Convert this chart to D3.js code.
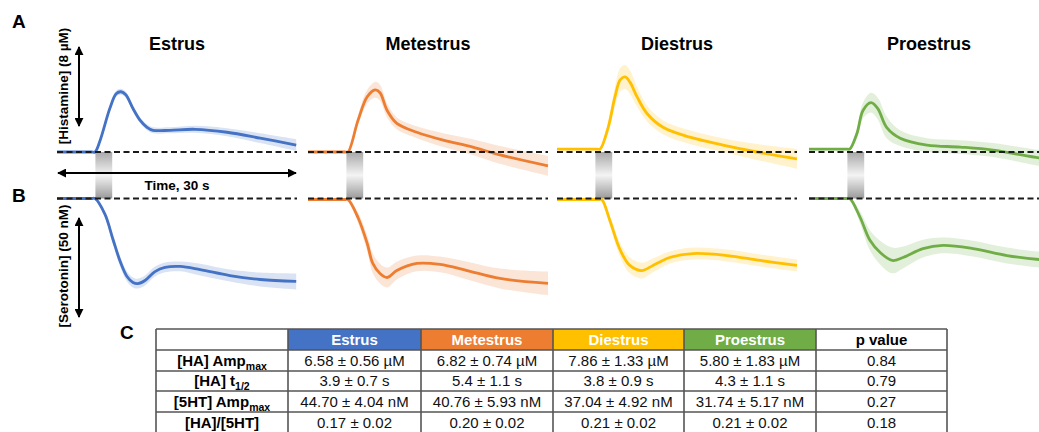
<!DOCTYPE html>
<html><head><meta charset="utf-8">
<script src="https://cdn.jsdelivr.net/npm/d3@7"></script>
<style>body{margin:0;background:#fff}svg{display:block}text{font-family:Arial,"Liberation Sans",sans-serif}</style>
</head><body><svg id="c" width="1039" height="432"></svg>
<script>
// ---------- data ----------
const phases = ["Estrus","Metestrus","Diestrus","Proestrus"];
const colors = ["#4472C4","#ED7D31","#FFC000","#70AD47"];
// [time s, mean µM, sem µM]
const estrusHA = [[0,0,0.1],[4.3,0,0.1],[4.75,0,0.1],[5.4,1.2,0.2],[6.6,4.4,0.3],[7.4,5.9,0.3],[8.0,6.1,0.3],[8.6,5.8,0.3],[9.5,4.4,0.3],[10.4,3.2,0.3],[11.25,2.5,0.3],[12,2.2,0.3],[14.1,2.2,0.3],[17.25,2.3,0.35],[21.25,2.0,0.4],[25.4,1.4,0.5],[29.9,0.7,0.6]];
const metestrusHA = [[0,0,0.1],[4.6,0,0.1],[5,0,0.1],[6.25,3.2,0.5],[7.4,5.6,0.7],[8.4,6.3,0.8],[9,6.0,0.8],[9.9,4.2,0.7],[11.1,2.9,0.6],[13.6,2.0,0.6],[16.9,1.2,0.7],[20.6,0.5,0.8],[24,-0.3,0.9],[30,-1.4,1.0]];
const diestrusHA = [[0,0.3,0.1],[5.0,0.3,0.1],[5.4,0.3,0.1],[6.4,2.5,0.6],[7.25,5.6,1.0],[7.9,7.3,1.2],[8.5,7.6,1.2],[9.1,7.1,1.2],[10,5.6,1.0],[11.25,3.9,0.8],[13.25,2.5,0.7],[16.6,1.5,0.7],[20.75,0.7,0.7],[25,0,0.8],[30,-0.7,1.0]];
const proestrusHA = [[0,0.3,0.1],[4.7,0.3,0.1],[5.1,0.3,0.1],[6,1.9,0.5],[6.75,4.2,0.8],[7.75,5.0,1.0],[8.6,4.4,1.1],[9.7,2.5,1.1],[11.4,1.4,0.8],[14.75,0.7,0.7],[18.9,0.5,0.7],[23,0.2,0.7],[28.75,-0.6,0.8],[30,-0.7,0.8]];
// [time s, mean nM (downward), sem nM]
const estrus5HT = [[0,0,0.5],[4.3,0,0.5],[4.75,0,0.5],[6,8,1.5],[7,20.7,2.5],[7.9,31.8,2.5],[8.75,39.4,2.5],[9.5,42.4,2.5],[10.1,43,2.5],[11,41.4,2.5],[12.25,36.9,2.5],[13.5,34.8,2.5],[15.4,34.3,2.5],[17.9,35.9,3],[21.6,38.9,3],[25.4,40.9,3.5],[29.9,41.9,4]];
const metestrus5HT = [[0,0.5,0.5],[4.6,0.5,0.5],[5,0.5,0.5],[6.25,9.6,2.5],[7.4,22.7,4],[8.1,32.8,5],[9,37.9,5],[9.9,39.9,5],[11.1,36.4,4.5],[13.6,32.8,4],[16.5,33.3,4],[19.9,36.4,4.5],[24,40.4,5],[30,42.9,6]];
const diestrus5HT = [[0,0.5,0.5],[5.2,0.5,0.5],[5.6,0.5,0.5],[6.6,11,2.5],[7.9,26,3.5],[9.1,33.8,4],[10.6,36.4,4],[12,33.8,3.5],[14.1,29.8,3],[17,27.8,3],[21.25,28.8,3],[25.4,31.3,3],[30,33.8,3]];
const proestrus5HT = [[0,0,0.5],[4.7,0,0.5],[5.1,0,0.5],[6.4,9.6,3],[7.6,21,5],[8.9,27.3,6],[10.4,31.3,6.5],[11.75,29.8,5.5],[14.25,25.3,4.5],[16.75,23.7,4],[20.5,25.3,4],[24.75,28.8,4],[28.75,30.8,4],[30,31,4]];
const haSeries = [estrusHA, metestrusHA, diestrusHA, proestrusHA];
const htSeries = [estrus5HT, metestrus5HT, diestrus5HT, proestrus5HT];
const stimWindow = [4.8, 6.9];   // s
const timeSpan = 30;             // s
const haBar = 8;                 // µM
const htBar = 50;                // nM

const tableHeader = ["", "Estrus","Metestrus","Diestrus","Proestrus","p value"];
const rowLabels = [["[HA] Amp","max"],["[HA] t","1/2"],["[5HT] Amp","max"],["[HA]/[5HT]",""]];
const tableValues = [
  ["6.58 ± 0.56 µM","6.82 ± 0.74 µM","7.86 ± 1.33 µM","5.80 ± 1.83 µM","0.84"],
  ["3.9 ± 0.7 s","5.4 ± 1.1 s","3.8 ± 0.9 s","4.3 ± 1.1 s","0.79"],
  ["44.70 ± 4.04 nM","40.76 ± 5.93 nM","37.04 ± 4.92 nM","31.74 ± 5.17 nM","0.27"],
  ["0.17 ± 0.02","0.20 ± 0.02","0.21 ± 0.02","0.21 ± 0.02","0.18"]
];

// ---------- layout ----------
const svg = d3.select("#c");
const panelX = [57, 308, 557, 809];
const panelW = 240;
const yA0 = 152, yB0 = 198.5;
const yHA = d3.scaleLinear().domain([0, 8]).range([yA0, yA0 - 79]);
const y5HT = d3.scaleLinear().domain([0, 50]).range([yB0, yB0 + 99]);
const curve = d3.curveCatmullRom.alpha(0.5);

// defs
const defs = svg.append("defs");
const grad = defs.append("linearGradient").attr("id","stim").attr("x1",0).attr("y1",0).attr("x2",0).attr("y2",1);
[[0,"#a8a8a8"],[0.5,"#f4f4f4"],[1,"#9a9a9a"]].forEach(([o,c])=>grad.append("stop").attr("offset",o).attr("stop-color",c));
const mk = defs.append("marker").attr("id","ah").attr("viewBox","0 0 10 10").attr("refX",9).attr("refY",5)
  .attr("markerWidth",4.5).attr("markerHeight",4.5).attr("orient","auto-start-reverse");
mk.append("path").attr("d","M0,0L10,5L0,10z").attr("fill","#000");

phases.forEach((ph,i)=>{
  const x = d3.scaleLinear().domain([0,timeSpan]).range([panelX[i], panelX[i]+panelW]);
  const g = svg.append("g");
  // stimulation bar
  g.append("rect").attr("x",x(stimWindow[0])).attr("width",x(stimWindow[1])-x(stimWindow[0]))
    .attr("y",yA0).attr("height",yB0-yA0).attr("fill","url(#stim)");
  const col = colors[i];
  // HA
  const areaA = d3.area().x(d=>x(d[0])).y0(d=>yHA(d[1]-d[2])).y1(d=>yHA(d[1]+d[2])).curve(curve);
  const lineA = d3.line().x(d=>x(d[0])).y(d=>yHA(d[1])).curve(curve);
  g.append("path").attr("d",areaA(haSeries[i])).attr("fill",col).attr("opacity",0.2);
  g.append("path").attr("d",lineA(haSeries[i])).attr("fill","none").attr("stroke",col).attr("stroke-width",2.8);
  // 5HT
  const areaB = d3.area().x(d=>x(d[0])).y0(d=>y5HT(d[1]-d[2])).y1(d=>y5HT(d[1]+d[2])).curve(curve);
  const lineB = d3.line().x(d=>x(d[0])).y(d=>y5HT(d[1])).curve(curve);
  g.append("path").attr("d",areaB(htSeries[i])).attr("fill",col).attr("opacity",0.2);
  g.append("path").attr("d",lineB(htSeries[i])).attr("fill","none").attr("stroke",col).attr("stroke-width",2.8);
  // baselines
  [yA0,yB0].forEach(yy=>g.append("line").attr("x1",x(0)).attr("x2",x(timeSpan)).attr("y1",yy).attr("y2",yy)
    .attr("stroke","#1a1a1a").attr("stroke-width",1.8).attr("stroke-dasharray","6,3.5"));
  // title
  g.append("text").attr("x",x(timeSpan/2)).attr("y",50).attr("text-anchor","middle")
    .attr("font-size",18).attr("font-weight","bold").text(ph);
  if(i===0){
    svg.append("line").attr("x1",x(0)+1).attr("x2",x(timeSpan)-1).attr("y1",173).attr("y2",173)
      .attr("stroke","#000").attr("stroke-width",2).attr("marker-start","url(#ah)").attr("marker-end","url(#ah)");
    svg.append("text").attr("x",x(timeSpan/2)).attr("y",190).attr("text-anchor","middle")
      .attr("font-size",13.5).attr("font-weight","bold").text("Time, 30 s");
  }
});

// scale bars
const barX = 79;
svg.append("line").attr("x1",barX).attr("x2",barX).attr("y1",47).attr("y2",47+(yHA(0)-yHA(haBar)))
  .attr("stroke","#000").attr("stroke-width",2).attr("marker-start","url(#ah)").attr("marker-end","url(#ah)");
svg.append("line").attr("x1",barX).attr("x2",barX).attr("y1",218).attr("y2",218+(y5HT(htBar)-y5HT(0)))
  .attr("stroke","#000").attr("stroke-width",2).attr("marker-start","url(#ah)").attr("marker-end","url(#ah)");
svg.append("text").attr("transform","translate(67.5,86) rotate(-90)").attr("text-anchor","middle")
  .attr("font-size",13.5).attr("font-weight","bold").text("[Histamine] (8 µM)");
svg.append("text").attr("transform","translate(67.5,266) rotate(-90)").attr("text-anchor","middle")
  .attr("font-size",13.5).attr("font-weight","bold").text("[Serotonin] (50 nM)");

// panel letters
[["A",12,28],["B",12,202],["C",120,339]].forEach(([t,x,y])=>
  svg.append("text").attr("x",x).attr("y",y).attr("font-size",19).attr("font-weight","bold").text(t));

// ---------- table ----------
const colX = [156, 288, 421, 553, 684, 816, 947];
const rowY = [329, 350, 371, 391, 412, 433];
const tg = svg.append("g");
tableHeader.forEach((h,j)=>{
  const fill = (j>=1 && j<=4) ? colors[j-1] : "#fff";
  tg.append("rect").attr("x",colX[j]).attr("y",rowY[0]).attr("width",colX[j+1]-colX[j]).attr("height",rowY[1]-rowY[0]).attr("fill",fill);
  if(h) tg.append("text").attr("x",(colX[j]+colX[j+1])/2).attr("y",(rowY[0]+rowY[1])/2+5.3).attr("text-anchor","middle")
    .attr("font-size",15).attr("font-weight","bold").attr("fill", j===5 ? "#000" : "#fff").text(h);
});
rowLabels.forEach((lab,r)=>{
  const cy = (rowY[r+1]+rowY[r+2])/2+5.3;
  const t = tg.append("text").attr("x",(colX[0]+colX[1])/2).attr("y",cy).attr("text-anchor","middle")
    .attr("font-size",15).attr("font-weight","bold");
  t.append("tspan").text(lab[0]);
  if(lab[1]) t.append("tspan").attr("font-size",10.5).attr("dy",4).text(lab[1]);
  tableValues[r].forEach((v,j)=>{
    tg.append("text").attr("x",(colX[j+1]+colX[j+2])/2).attr("y",cy).attr("text-anchor","middle")
      .attr("font-size",15).attr("fill","#111").text(v);
  });
});
colX.forEach(cx=>tg.append("line").attr("x1",cx).attr("x2",cx).attr("y1",rowY[0]).attr("y2",rowY[5])
  .attr("stroke","#555").attr("stroke-width",1.6));
rowY.forEach(ry=>tg.append("line").attr("x1",colX[0]).attr("x2",colX[6]).attr("y1",ry).attr("y2",ry)
  .attr("stroke","#555").attr("stroke-width",1.6));
</script></body></html>
